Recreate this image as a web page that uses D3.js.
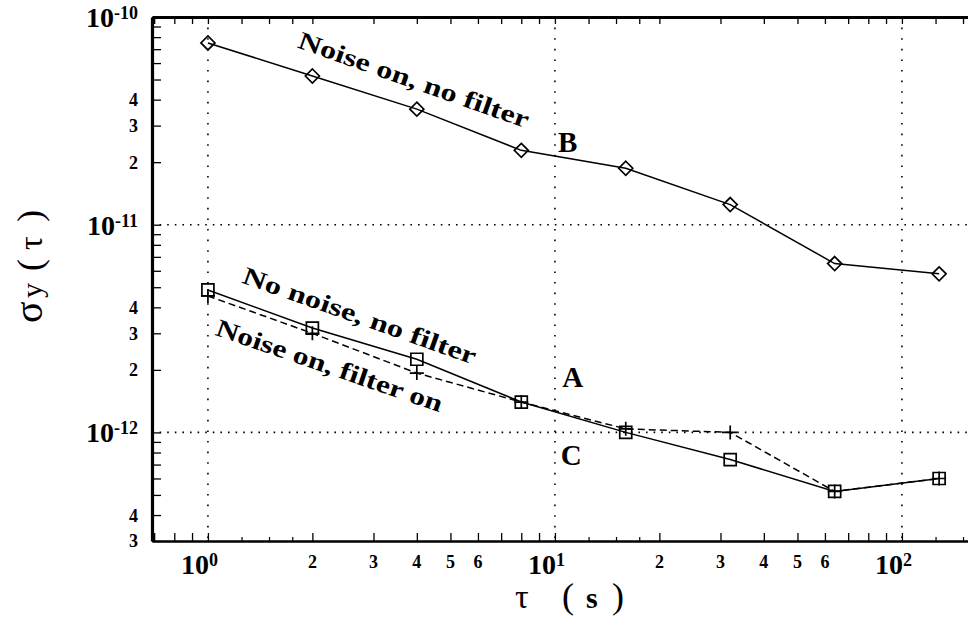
<!DOCTYPE html>
<html>
<head>
<meta charset="utf-8">
<script src="https://cdn.jsdelivr.net/npm/d3@7"></script>
<style>
  body { margin: 0; background: #fff; }
  svg { display: block; font-family: "Liberation Serif", "DejaVu Serif", serif; }
</style>
</head>
<body>
<div id="chart"></div>
<script>
// averaging time (s) and the three stability curves
var tau = [1, 2, 4, 8, 16, 32, 64, 128];
var sigmaB = [7.5e-11, 5.2e-11, 3.6e-11, 2.28e-11, 1.87e-11, 1.25e-11, 6.5e-12, 5.8e-12];
var sigmaA = [4.85e-12, 3.18e-12, 2.25e-12, 1.40e-12, 1.0e-12, 7.4e-13, 5.2e-13, 6.0e-13];
var sigmaC = [4.54e-12, 3.0e-12, 1.93e-12, 1.40e-12, 1.04e-12, 1.0e-12, 5.2e-13, 6.0e-13];

// tick labels
var xMajor = [1, 10, 100];
var xMajorExp = ["0", "1", "2"];
var xMinor = [2, 3, 4, 5, 6, 20, 30, 40, 50, 60];
var xMinorText = ["2", "3", "4", "5", "6", "2", "3", "4", "5", "6"];
var yMajor = [1e-10, 1e-11, 1e-12];
var yMajorExp = ["-10", "-11", "-12"];
var yMinor = [4e-11, 3e-11, 2e-11, 4e-12, 3e-12, 2e-12, 4e-13, 3e-13];
var yMinorText = ["4", "3", "2", "4", "3", "2", "4", "3"];

// curve annotations (slanted)
var annText = ["Noise on, no filter", "No noise, no filter", "Noise on, filter on"];
var annTau = [3.85, 2.69, 2.20];
var annSigma = [4.56e-11, 3.34e-12, 1.92e-12];
var annAngle = [19.5, 19.5, 19];
var annLength = [243, 246, 238];

var letterText = ["B", "A", "C"];
var letterTau = [10.2, 10.5, 10.4];
var letterSigma = [2.25e-11, 1.66e-12, 6.93e-13];

var W = 968, H = 620;
var padL = 152, padT = 17, padB = 541;
var decade = 347;
var xDom = [0.69, 210];

var svg = d3.select("#chart").append("svg")
    .attr("width", W).attr("height", H);
svg.append("rect").attr("width", W).attr("height", H).attr("fill", "#fff");

var x = d3.scaleLog().domain(xDom)
    .range([padL, padL + decade * Math.log10(xDom[1] / xDom[0])]);
var y = d3.scaleLog().domain([1e-10, 3e-13]).range([padT, padB]);

// tick values: 1..9 per decade plus small quarter ticks
var xTicks = [], xSmall = [], yTicks = [];
for (var e = -1; e <= 2; e++) {
  for (var m = 1; m <= 9; m++) {
    var v = m * Math.pow(10, e);
    if (v >= xDom[0] && v <= xDom[1]) xTicks.push(v);
  }
  [1.25, 1.5, 1.75].forEach(function(q) {
    var v = q * Math.pow(10, e);
    if (v >= xDom[0] && v <= xDom[1]) xSmall.push(v);
  });
}
for (var e = -13; e <= -10; e++) {
  for (var m = 1; m <= 9; m++) {
    var v = m * Math.pow(10, e);
    if (v >= 2.99e-13 && v <= 1.01e-10) yTicks.push(v);
  }
}

// dotted grid at decades
var grid = svg.append("g").attr("stroke", "#000").attr("stroke-width", 1.6)
    .attr("fill", "none");
[1e-11, 1e-12].forEach(function(v) {
  grid.append("line").attr("x1", padL).attr("x2", W)
      .attr("y1", y(v)).attr("y2", y(v))
      .attr("stroke-dasharray", "1.6,6");
});
xMajor.forEach(function(v) {
  grid.append("line").attr("x1", x(v)).attr("x2", x(v))
      .attr("y1", padT).attr("y2", padB)
      .attr("stroke-dasharray", "1.6,9");
});

// axes (ticks point inward)
function styleAxis(g, w) {
  g.select(".domain").attr("stroke-width", w);
  g.selectAll(".tick line").attr("stroke-width", 1.3);
}
svg.append("g").attr("transform", "translate(0," + padB + ")")
    .call(d3.axisBottom(x).tickValues(xTicks).tickSize(-8).tickSizeOuter(0).tickFormat(""))
    .call(styleAxis, 2.6);
svg.append("g").attr("transform", "translate(0," + padB + ")")
    .call(d3.axisBottom(x).tickValues(xSmall).tickSize(-4).tickSizeOuter(0).tickFormat(""))
    .call(function(g) { g.select(".domain").remove(); g.selectAll(".tick line").attr("stroke-width", 1.2); });
svg.append("g").attr("transform", "translate(0," + padT + ")")
    .call(d3.axisTop(x).tickValues(xTicks.concat(xSmall)).tickSize(-7).tickSizeOuter(0).tickFormat(""))
    .call(styleAxis, 2.8);
svg.append("g").attr("transform", "translate(" + padL + ",0)")
    .call(d3.axisLeft(y).tickValues(yTicks).tickSize(-9).tickSizeOuter(0).tickFormat(""))
    .call(styleAxis, 3.2);

// tick labels
var lab = svg.append("g").attr("font-weight", "bold").attr("fill", "#000");
xMajor.forEach(function(v, i) {
  var t = lab.append("text").attr("x", x(v) - 27).attr("y", 574)
      .attr("font-size", 28);
  t.append("tspan").text("10");
  t.append("tspan").attr("font-size", 18).attr("dy", -8).text(xMajorExp[i]);
});
xMinor.forEach(function(v, i) {
  lab.append("text").attr("x", x(v)).attr("y", 568)
      .attr("text-anchor", "middle").attr("font-size", 18).text(xMinorText[i]);
});
yMajor.forEach(function(v, i) {
  var t = lab.append("text").attr("x", padL - 14).attr("y", y(v) + 10)
      .attr("text-anchor", "end").attr("font-size", 28);
  t.append("tspan").text("10");
  t.append("tspan").attr("font-size", 18).attr("dy", -8).text(yMajorExp[i]);
});
yMinor.forEach(function(v, i) {
  lab.append("text").attr("x", padL - 14).attr("y", y(v)).attr("dy", "0.36em")
      .attr("text-anchor", "end").attr("font-size", 18).text(yMinorText[i]);
});

// axis titles
var yt = svg.append("text").attr("transform", "translate(42,0) rotate(-90)")
    .attr("font-size", 36);
yt.append("tspan").attr("x", -323).attr("font-size", 40).text("σ");
yt.append("tspan").attr("x", -298).attr("font-size", 30).text("y");
yt.append("tspan").attr("x", -271).text("(");
yt.append("tspan").attr("x", -250).attr("font-size", 34).text("τ");
yt.append("tspan").attr("x", -222).text(")");

var xt = svg.append("text").attr("y", 608).attr("font-size", 36);
xt.append("tspan").attr("x", 515).attr("font-size", 34).text("τ");
xt.append("tspan").attr("x", 562).text("(");
xt.append("tspan").attr("x", 586).attr("font-weight", "bold").attr("font-size", 30).text("s");
xt.append("tspan").attr("x", 612).text(")");

// curves
function series(vals, dash) {
  var pts = tau.map(function(t, i) { return [t, vals[i]]; });
  svg.append("path").datum(pts)
      .attr("fill", "none").attr("stroke", "#000").attr("stroke-width", 1.5)
      .attr("stroke-dasharray", dash)
      .attr("d", d3.line().x(function(d) { return x(d[0]); }).y(function(d) { return y(d[1]); }));
  return pts;
}
var ptsB = series(sigmaB, null);
var ptsC = series(sigmaC, "7,4");
var ptsA = series(sigmaA, null);

function markers(pts, shape) {
  svg.append("g").selectAll("path").data(pts).join("path")
      .attr("transform", function(d) { return "translate(" + x(d[0]) + "," + y(d[1]) + ")"; })
      .attr("d", shape)
      .attr("fill", "none").attr("stroke", "#000").attr("stroke-width", 1.7);
}
markers(ptsB, "M0,-7L7,0L0,7L-7,0Z");
markers(ptsA, "M-6,-6H6V6H-6Z");
markers(ptsC, "M-7,0H7M0,-7V7");

// annotations
annText.forEach(function(s, i) {
  var px = x(annTau[i]), py = y(annSigma[i]);
  svg.append("text")
      .attr("transform", "translate(" + px + "," + py + ") rotate(" + annAngle[i] + ")")
      .attr("text-anchor", "middle").attr("font-size", 25).attr("font-weight", "bold")
      .attr("textLength", annLength[i]).attr("lengthAdjust", "spacingAndGlyphs")
      .text(s);
});
letterText.forEach(function(s, i) {
  svg.append("text").attr("x", x(letterTau[i])).attr("y", y(letterSigma[i]))
      .attr("font-size", 29).attr("font-weight", "bold").text(s);
});
</script>
</body>
</html>
